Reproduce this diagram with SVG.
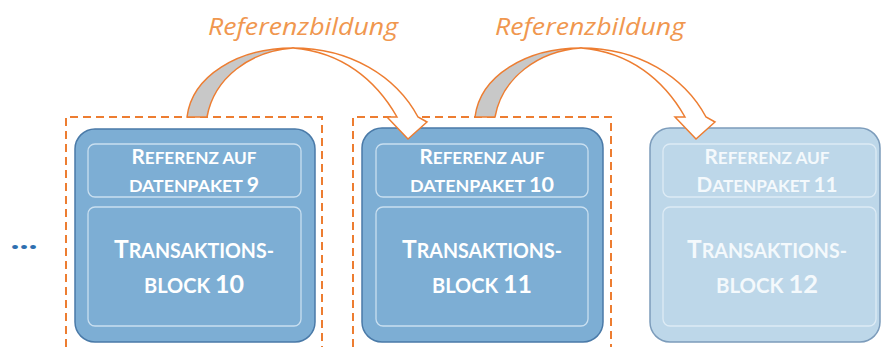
<svg xmlns="http://www.w3.org/2000/svg" width="882" height="347" viewBox="0 0 882 347">
<style>
.blk{fill:#7DAED4;stroke:#4A7AA8;stroke-width:1.5}
.blk3{fill:#BDD7E9;stroke:#7C9CBB;stroke-width:1.5}
.inr{fill:none;stroke:#C9DFF0;stroke-width:1.3}
.inr3{fill:none;stroke:#DDEBF5;stroke-width:1.3}
.dash{fill:none;stroke:#ED7D31;stroke-width:2;stroke-dasharray:8 5}
.t{font-family:Lato,"Open Sans","Liberation Sans",sans-serif;font-weight:bold;fill:#FFFFFF;text-anchor:middle}
.t3{fill:#F4F9FC}
.lbl{font-family:"Open Sans","Liberation Sans",sans-serif;font-style:italic;font-size:23px;fill:#F0974F;text-anchor:middle}
.arrW{fill:#FFFFFF;stroke:#ED7D31;stroke-width:1.5;stroke-linejoin:miter}
.arrG{fill:#C8C8C8;stroke:#ED7D31;stroke-width:1.5}
</style>
<defs>
<g id="arrow">
<path class="arrG" d="M187,117 C192,76 238,48 293,48 C250,51 214,78 207,117 Z"/>
<path class="arrW" d="M293,48 C350,48 396,76 418,117 L427,122 L408,139 L387,117 L397,117 C376,80 342,52 293,48 Z"/>
</g>
</defs>
<rect width="882" height="347" fill="#FFFFFF"/>
<text x="24" y="249" class="t" style="fill:#2E6FB0;font-size:26px" textLength="27" lengthAdjust="spacingAndGlyphs">...</text>
<g id="frames">
<path class="dash" d="M66,347 V117 H322 V347"/>
<path class="dash" d="M353,347 V117 H611 V347"/>
</g>
<g id="block10">
<rect class="blk" x="75" y="129" width="240" height="213" rx="20"/>
<rect class="inr" x="88" y="144" width="213" height="53" rx="7"/>
<rect class="inr" x="88" y="207" width="213" height="119" rx="7"/>
<text class="t" x="194" y="164" textLength="125" lengthAdjust="spacingAndGlyphs"><tspan font-size="21">R</tspan><tspan font-size="17.5">EFERENZ AUF</tspan></text>
<text class="t" x="194" y="191.5" textLength="130" lengthAdjust="spacingAndGlyphs"><tspan font-size="17.5">DATENPAKET </tspan><tspan font-size="21">9</tspan></text>
<text class="t" x="194" y="258" textLength="160" lengthAdjust="spacingAndGlyphs"><tspan font-size="25">T</tspan><tspan font-size="20">RANSAKTIONS-</tspan></text>
<text class="t" x="194" y="293" textLength="100" lengthAdjust="spacingAndGlyphs"><tspan font-size="20">BLOCK </tspan><tspan font-size="25">10</tspan></text>
</g>
<g id="block11">
<rect class="blk" x="362" y="128" width="241" height="214" rx="20"/>
<rect class="inr" x="376" y="144" width="212" height="53" rx="7"/>
<rect class="inr" x="376" y="207" width="212" height="119" rx="7"/>
<text class="t" x="482" y="164" textLength="125" lengthAdjust="spacingAndGlyphs"><tspan font-size="21">R</tspan><tspan font-size="17.5">EFERENZ AUF</tspan></text>
<text class="t" x="482" y="191.5" textLength="144" lengthAdjust="spacingAndGlyphs"><tspan font-size="17.5">DATENPAKET </tspan><tspan font-size="21">10</tspan></text>
<text class="t" x="482" y="258" textLength="160" lengthAdjust="spacingAndGlyphs"><tspan font-size="25">T</tspan><tspan font-size="20">RANSAKTIONS-</tspan></text>
<text class="t" x="482" y="293" textLength="100" lengthAdjust="spacingAndGlyphs"><tspan font-size="20">BLOCK </tspan><tspan font-size="25">11</tspan></text>
</g>
<g id="block12">
<rect class="blk3" x="650" y="128" width="230" height="214" rx="20"/>
<rect class="inr3" x="663" y="144" width="213" height="53" rx="7"/>
<rect class="inr3" x="663" y="207" width="213" height="119" rx="7"/>
<text class="t t3" x="767" y="164" textLength="125" lengthAdjust="spacingAndGlyphs"><tspan font-size="21">R</tspan><tspan font-size="17.5">EFERENZ AUF</tspan></text>
<text class="t t3" x="767" y="191.5" textLength="141" lengthAdjust="spacingAndGlyphs"><tspan font-size="21">D</tspan><tspan font-size="17.5">ATENPAKET </tspan><tspan font-size="21">11</tspan></text>
<text class="t t3" x="767" y="258" textLength="160" lengthAdjust="spacingAndGlyphs"><tspan font-size="25">T</tspan><tspan font-size="20">RANSAKTIONS-</tspan></text>
<text class="t t3" x="767" y="293" textLength="102" lengthAdjust="spacingAndGlyphs"><tspan font-size="20">BLOCK </tspan><tspan font-size="25">12</tspan></text>
</g>
<g id="connectors">
<use href="#arrow"/>
<use href="#arrow" transform="translate(288,0)"/>
<text class="lbl" x="303" y="35" textLength="190" lengthAdjust="spacingAndGlyphs">Referenzbildung</text>
<text class="lbl" x="590" y="35" textLength="190" lengthAdjust="spacingAndGlyphs">Referenzbildung</text>
</g>
</svg>
